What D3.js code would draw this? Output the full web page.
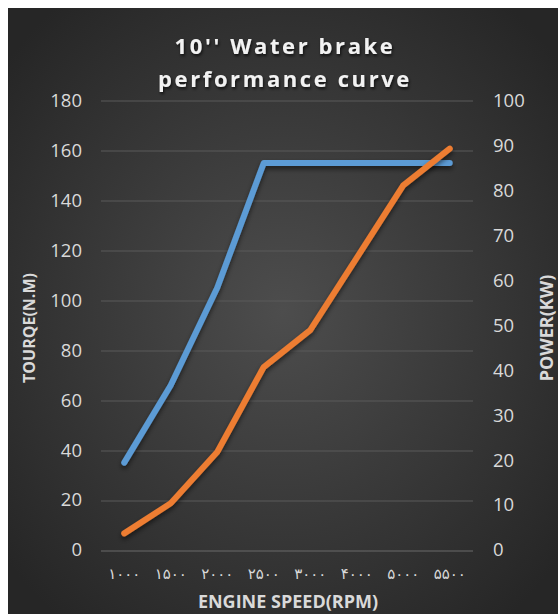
<!DOCTYPE html>
<html>
<head>
<meta charset="utf-8">
<script src="https://cdn.jsdelivr.net/npm/d3@7"></script>
<style>
  body { margin: 0; background: #fff; }
  svg { display: block; }
</style>
</head>
<body>
<div id="chart-area"></div>
<script>
// data
let speeds = ["۱۰۰۰", "۱۵۰۰", "۲۰۰۰", "۲۵۰۰", "۳۰۰۰", "۴۰۰۰", "۵۰۰۰", "۵۵۰۰"]
let torque = [35, 66, 105, 155, 155, 155, 155, 155]
let power = [3.7, 10.4, 21.8, 40.7, 48.9, 65, 81.1, 89.3]
let leftTicks = [0, 20, 40, 60, 80, 100, 120, 140, 160, 180]
let rightTicks = [0, 10, 20, 30, 40, 50, 60, 70, 80, 90, 100]

let width = 558, height = 614
let margin = {top: 100.5, right: 85, bottom: 64, left: 101}
let plotW = width - margin.left - margin.right
let plotH = height - margin.top - margin.bottom

let svg = d3.select("#chart-area").append("svg")
  .attr("width", width)
  .attr("height", height)

let defs = svg.append("defs")
let grad = defs.append("radialGradient")
  .attr("id", "bg")
  .attr("cx", "50%").attr("cy", "50%").attr("r", "65%")
grad.append("stop").attr("offset", "0%").attr("stop-color", "#4d4d4d")
grad.append("stop").attr("offset", "100%").attr("stop-color", "#262626")

let shadow = defs.append("filter").attr("id", "shadow")
  .attr("x", "-10%").attr("y", "-10%").attr("width", "120%").attr("height", "130%")
shadow.append("feDropShadow")
  .attr("dx", 0).attr("dy", 3).attr("stdDeviation", 2.5)
  .attr("flood-color", "#000").attr("flood-opacity", 0.55)

let tshadow = defs.append("filter").attr("id", "tshadow")
tshadow.append("feDropShadow")
  .attr("dx", 1).attr("dy", 2).attr("stdDeviation", 1.5)
  .attr("flood-color", "#000").attr("flood-opacity", 0.7)

svg.append("rect")
  .attr("x", 8).attr("y", 8)
  .attr("width", width - 8).attr("height", height - 8)
  .attr("fill", "url(#bg)")

// title
let title = svg.append("text")
  .attr("text-anchor", "middle")
  .attr("fill", "#f2f2f2")
  .attr("font-family", "'Open Sans', sans-serif")
  .attr("font-weight", "bold")
  .attr("font-size", "22px")
  .attr("letter-spacing", "2.6px")
  .attr("filter", "url(#tshadow)")
title.append("tspan").attr("x", 285).attr("y", 54).text("10'' Water brake")
title.append("tspan").attr("x", 285).attr("y", 87).text("performance curve")

let group = svg.append("g")
  .attr("transform", "translate(" + margin.left + ", " + margin.top + ")")

let x = d3.scaleBand()
  .domain(speeds)
  .range([0, plotW])

let yLeft = d3.scaleLinear().domain([0, 180]).range([plotH, 0])
let yRight = d3.scaleLinear().domain([0, 100]).range([plotH, 0])

// gridlines
group.append("g")
  .selectAll("line")
  .data(leftTicks)
  .enter().append("line")
    .attr("x1", 0).attr("x2", plotW)
    .attr("y1", d => Math.round(yLeft(d)) + 0.5)
    .attr("y2", d => Math.round(yLeft(d)) + 0.5)
    .attr("stroke", d => d === 0 ? "#6a6a6a" : "#5a5a5a")
    .attr("stroke-width", 1)

// left axis
let leftAxis = d3.axisLeft(yLeft).tickValues(leftTicks).tickSize(0).tickPadding(19)
group.append("g")
  .call(leftAxis)
  .call(g => g.select(".domain").remove())
  .selectAll("text")
    .attr("fill", "#d9d9d9")
    .attr("font-family", "'Open Sans', sans-serif")
    .attr("font-size", "18.5px")

// right axis
let rightAxis = d3.axisRight(yRight).tickValues(rightTicks).tickSize(0).tickPadding(20)
group.append("g")
  .attr("transform", "translate(" + plotW + ", 0)")
  .call(rightAxis)
  .call(g => g.select(".domain").remove())
  .selectAll("text")
    .attr("fill", "#d9d9d9")
    .attr("font-family", "'Open Sans', sans-serif")
    .attr("font-size", "18.5px")

// x axis
let xAxis = d3.axisBottom(x).tickSize(0).tickPadding(18)
group.append("g")
  .attr("transform", "translate(0, " + plotH + ")")
  .call(xAxis)
  .call(g => g.select(".domain").remove())
  .selectAll("text")
    .attr("fill", "#d9d9d9")
    .attr("font-family", "'DejaVu Sans', sans-serif")
    .attr("font-size", "15px")
    .attr("letter-spacing", "1.5px")

// axis titles
svg.append("text")
  .attr("x", -328).attr("y", 35)
  .attr("transform", "rotate(-90)")
  .attr("text-anchor", "middle")
  .attr("fill", "#d9d9d9")
  .attr("font-family", "'Open Sans', sans-serif")
  .attr("font-weight", "bold")
  .attr("font-size", "16px")
  .text("TOURQE(N.M)")

svg.append("text")
  .attr("x", -328).attr("y", 553)
  .attr("transform", "rotate(-90)")
  .attr("text-anchor", "middle")
  .attr("fill", "#d9d9d9")
  .attr("font-family", "'Open Sans', sans-serif")
  .attr("font-weight", "bold")
  .attr("font-size", "18px")
  .text("POWER(KW)")

svg.append("text")
  .attr("x", 288).attr("y", 608)
  .attr("text-anchor", "middle")
  .attr("fill", "#d9d9d9")
  .attr("font-family", "'Open Sans', sans-serif")
  .attr("font-weight", "bold")
  .attr("font-size", "18px")
  .text("ENGINE SPEED(RPM)")

// lines
let cx = (d, i) => x(speeds[i]) + x.bandwidth() / 2

let torqueLine = d3.line().x(cx).y(d => yLeft(d))
let powerLine = d3.line().x(cx).y(d => yRight(d))

group.append("path")
  .datum(torque)
  .attr("d", torqueLine)
  .attr("fill", "none")
  .attr("stroke", "#5b9bd5")
  .attr("stroke-width", 6)
  .attr("stroke-linecap", "round")
  .attr("stroke-linejoin", "round")
  .attr("filter", "url(#shadow)")

group.append("path")
  .datum(power)
  .attr("d", powerLine)
  .attr("fill", "none")
  .attr("stroke", "#ed7d31")
  .attr("stroke-width", 6)
  .attr("stroke-linecap", "round")
  .attr("stroke-linejoin", "round")
  .attr("filter", "url(#shadow)")
</script>
</body>
</html>
